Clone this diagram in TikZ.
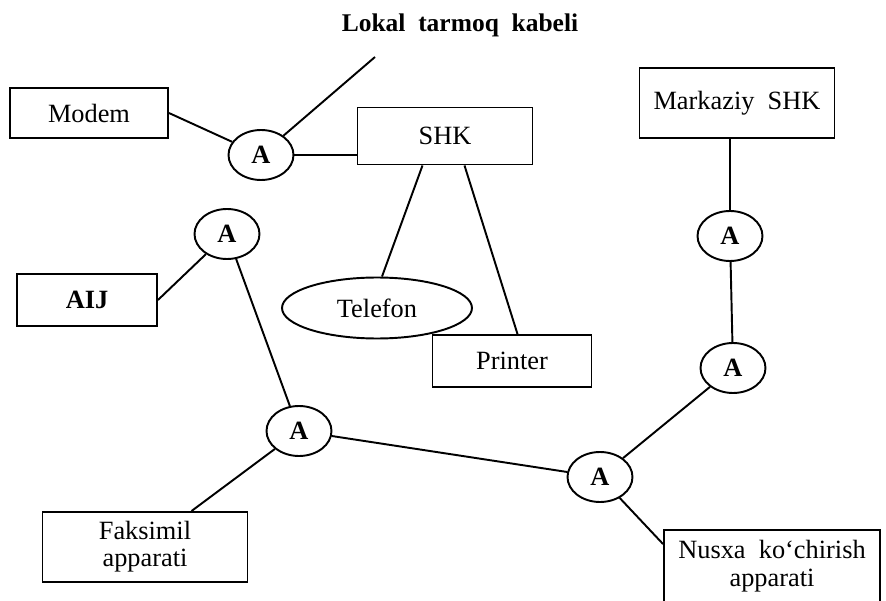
\documentclass[tikz,border=0pt]{standalone}
\usepackage{fontspec}
\setmainfont{Liberation Serif}
\usetikzlibrary{shapes.geometric}

\begin{document}
\begin{tikzpicture}[x=0.02cm, y=-0.02cm, line width=1.1pt, font=\fontsize{15}{15.5}\selectfont,
    box/.style = {draw, rectangle, align=center, inner sep=0pt},
    adp/.style = {draw, ellipse, inner sep=0pt, minimum width=1.3cm, minimum height=1cm, font=\fontsize{15}{15.5}\selectfont\bfseries}]
    \useasboundingbox (0,0) rectangle (886,601);
    \node (title) at (460,25) {\fontsize{14.5}{16}\selectfont\bfseries Lokal\ \ tarmoq\ \ kabeli};
    \coordinate (cab) at (375,57);
    \node[box, minimum width=3.16cm, minimum height=1cm] (modem) at (89,113) {Modem};
    \node[adp] (a1) at (261,155) {A};
    \node[box, minimum width=3.5cm, minimum height=1.14cm] (shk) at (445,136) {SHK};
    \node[box, minimum width=3.9cm, minimum height=1.4cm] (mshk) at (737,103) {Markaziy\ \ SHK};
    \node[adp] (a2) at (730,236) {A};
    \node[adp] (a3) at (733,368) {A};
    \node[draw, ellipse, inner sep=0pt, minimum width=3.8cm, minimum height=1.22cm] (tel) at (377,308) {Telefon};
    \node[box, minimum width=3.18cm, minimum height=1.04cm] (printer) at (512,361) {Printer};
    \node[adp] (a4) at (227,234) {A};
    \node[box, minimum width=2.8cm, minimum height=1.04cm] (aij) at (87,300) {\bfseries AIJ};
    \node[adp] (a5) at (299,431) {A};
    \node[adp] (a6) at (600,477) {A};
    \node[box, minimum width=4.1cm, minimum height=1.4cm] (fax) at (145,547) {Faksimil\\apparati};
    \node[box, minimum width=4.32cm, minimum height=1.88cm] (nusxa) at (772,577) {Nusxa\ \ ko‘chirish\\apparati\\~};
    \draw (modem.east) -- (a1);
    \draw (a1) -- (cab);
    \draw (a1.east) -- (a1.east -| shk.west);
    \draw ([xshift=-0.45cm]shk.south) -- ([xshift=0.1cm]tel.north);
    \draw ([xshift=0.39cm]shk.south) -- ([xshift=0.11cm]printer.north);
    \draw (a2 |- mshk.south) -- (a2);
    \draw (a2) -- (a3);
    \draw (a3) -- (a6);
    \draw (a6) -- ([yshift=-0.3cm]nusxa.north west);
    \draw (a5) -- (a6);
    \draw (a4) -- (a5);
    \draw (aij.east) -- (a4);
    \draw ([xshift=0.93cm]fax.north) -- (a5);
\end{tikzpicture}
\end{document}
